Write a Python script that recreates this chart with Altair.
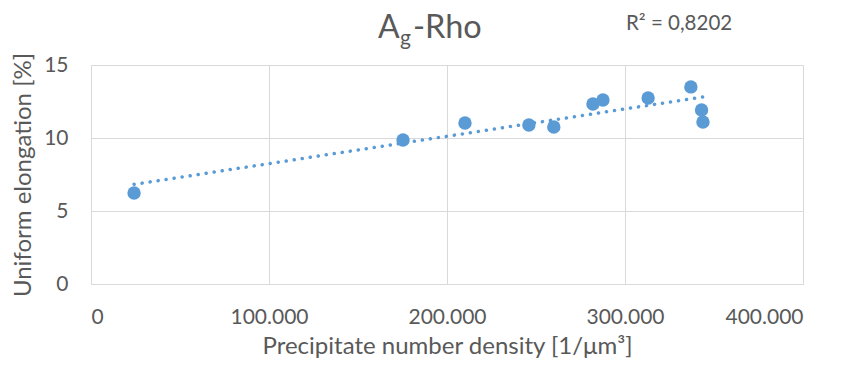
import altair as alt
import pandas as pd

# Data
density = [24200, 175300, 210100, 246000, 260000, 282000, 287600, 313000, 337000, 343000, 343800]
elongation = [6.23, 9.86, 11.03, 10.89, 10.75, 12.33, 12.60, 12.74, 13.50, 11.92, 11.10]
x_ticks = [0, 100000, 200000, 300000, 400000]
y_ticks = [0, 5, 10, 15]
r2_label = "R² = 0,8202"

df = pd.DataFrame({"x": density, "y": elongation})

FONT = "Lato"
GREY = "#595959"
BLUE = "#5B9BD5"

xs = alt.X("x:Q", scale=alt.Scale(domain=[0, 400000], nice=False),
           axis=alt.Axis(values=x_ticks, title="Precipitate number density [1/μm³]",
                         labelExpr="datum.value == 0 ? '0' : format(datum.value/1000, 'd') + '.000'"))
ys = alt.Y("y:Q", scale=alt.Scale(domain=[0, 15], nice=False),
           axis=alt.Axis(values=y_ticks, title="Uniform elongation [%]"))

base = alt.Chart(df)

trend = base.transform_regression("x", "y", method="linear").mark_line(
    color=BLUE, strokeWidth=3.5, strokeDash=[0.1, 8], strokeCap="round"
).encode(x=xs, y=ys)

points = base.mark_circle(size=180, color=BLUE, opacity=1).encode(x=xs, y=ys)

def txt(s, x, y, size):
    return alt.Chart(pd.DataFrame({"t": [s]})).mark_text(
        font=FONT, fontSize=size, color=GREY, align="left", baseline="alphabetic"
    ).encode(text="t:N", x=alt.value(x), y=alt.value(y))

title_a = txt("A", 287, -27, 32)
title_g = txt("g", 309, -20, 21)
title_rho = txt("-Rho", 322, -27, 32.5)
r2 = txt(r2_label, 535, -35, 20.5)

chart = alt.layer(trend, points, title_a, title_g, title_rho, r2).properties(
    width=712, height=219,
    autosize=alt.AutoSizeParams(type="none"),
    padding={"left": 83, "top": 57, "right": 32, "bottom": 76},
).configure_view(stroke=None).configure_axis(
    labelFont=FONT, titleFont=FONT, labelColor=GREY, titleColor=GREY,
    labelFontSize=21, titleFontSize=24, titleFontWeight="normal",
    gridColor="#d9d9d9", gridWidth=1, ticks=False, tickSize=0,
    domainColor="#d9d9d9",
).configure_axisX(
    labelPadding=22, titlePadding=7, domain=True
).configure_axisY(
    labelPadding=23, titlePadding=8, domain=False
)

chart.save("out.html", embed_options={"renderer": "svg", "actions": False})
